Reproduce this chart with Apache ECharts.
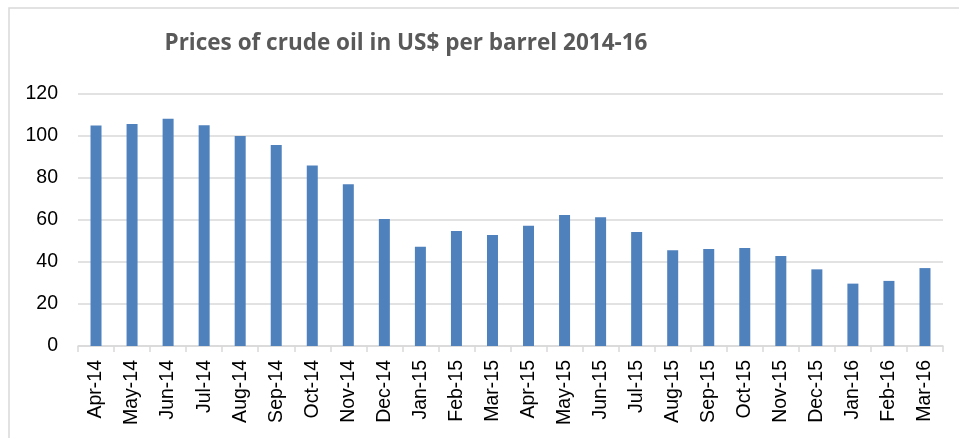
<!DOCTYPE html>
<html>
<head>
<meta charset="utf-8">
<script src="https://cdn.jsdelivr.net/npm/echarts@6/dist/echarts.min.js"></script>
<style>
  html, body { margin: 0; padding: 0; background: #fff; }
  #chart { width: 959px; height: 438px; }
</style>
</head>
<body>
<div id="chart"></div>
<script>
// months on the x axis
const months = [
  'Apr-14', 'May-14', 'Jun-14', 'Jul-14', 'Aug-14', 'Sep-14', 'Oct-14', 'Nov-14',
  'Dec-14', 'Jan-15', 'Feb-15', 'Mar-15', 'Apr-15', 'May-15', 'Jun-15', 'Jul-15',
  'Aug-15', 'Sep-15', 'Oct-15', 'Nov-15', 'Dec-15', 'Jan-16', 'Feb-16', 'Mar-16'
]
// price in US$ per barrel
const prices = [
  105, 105.7, 108.2, 105.1, 100, 95.7, 86, 77,
  60.5, 47.3, 54.8, 52.9, 57.3, 62.4, 61.3, 54.3,
  45.6, 46.2, 46.7, 42.9, 36.5, 29.7, 31, 37.1
]
const yTicks = [0, 20, 40, 60, 80, 100, 120]

const chart = echarts.init(document.getElementById('chart'))
chart.setOption({
  animation: false,
  title: {
    text: 'Prices of crude oil in US$ per barrel 2014-16',
    left: 401,
    top: 27,
    textAlign: 'center',
    textStyle: {
      fontFamily: 'Open Sans',
      fontWeight: 'bold',
      fontSize: 22.5,
      color: '#595959'
    }
  },
  graphic: [
    {
      type: 'rect',
      shape: { x: 9, y: 8, width: 1000, height: 500 },
      style: { fill: 'none', stroke: '#d9d9d9', lineWidth: 1.5 },
      silent: true
    }
  ],
  grid: { left: 78, right: 16, top: 94, bottom: 92 },
  xAxis: {
    type: 'category',
    data: months,
    axisLine: { lineStyle: { color: '#d9d9d9', width: 1.5 } },
    axisTick: { show: true, length: 6, lineStyle: { color: '#d9d9d9', width: 1.5 } },
    axisLabel: {
      rotate: 90,
      margin: 14,
      fontFamily: 'Liberation Sans',
      fontSize: 19.5,
      color: '#000'
    }
  },
  yAxis: {
    type: 'value',
    min: yTicks[0],
    max: yTicks[yTicks.length - 1],
    interval: 20,
    axisLine: { show: false },
    axisTick: { show: false },
    splitLine: { lineStyle: { color: '#d9d9d9', width: 1.5 } },
    axisLabel: {
      margin: 20,
      fontFamily: 'Liberation Sans',
      fontSize: 19.5,
      color: '#000'
    }
  },
  series: [
    {
      type: 'bar',
      data: prices,
      barWidth: 11,
      itemStyle: { color: '#4f81bd' }
    }
  ]
})
</script>
</body>
</html>
